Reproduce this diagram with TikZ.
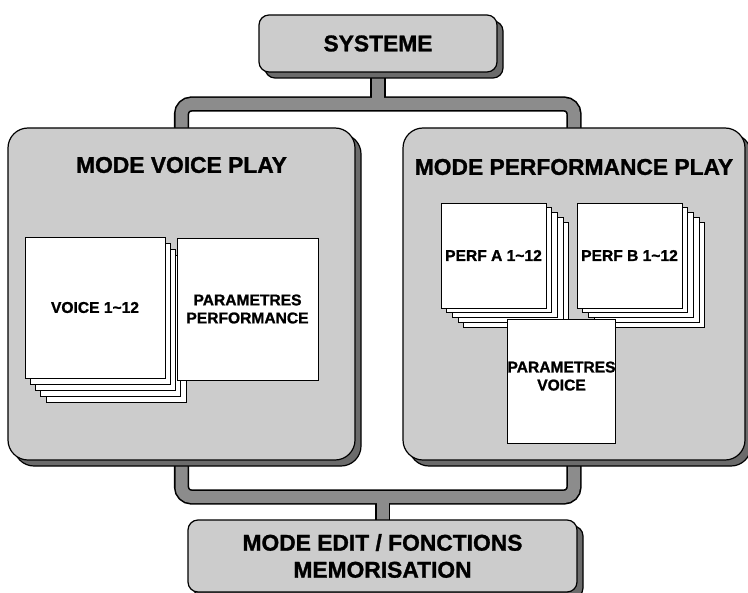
\documentclass[tikz,border=0pt]{standalone}
\usepackage{fontspec}
\setmainfont{Liberation Sans}[BoldFeatures={FakeBold=1.2}]
\usepackage{xcolor}
\usetikzlibrary{shadows}
\usetikzlibrary{backgrounds}

\newcommand{\hdfont}{\fontsize{11.4}{13.5}\selectfont\bfseries}
\newcommand{\shfont}{\fontsize{7.8}{9}\selectfont\bfseries}

\begin{document}
\begin{tikzpicture}[x=0.5pt,y=-0.5pt,
        boxshade/.style={draw=black,line width=0.6pt,fill=black!20,inner sep=0pt,outer sep=0pt,
            drop shadow={shadow xshift=3pt,shadow yshift=-3pt,fill=black!58,draw=black,line width=0.6pt,opacity=1}},
        panel/.style={boxshade,rounded corners=10pt,minimum height=166pt},
        headbox/.style={boxshade,rounded corners=5pt,align=center,font=\hdfont},
        title/.style={inner sep=0pt,font=\hdfont},
        sheet/.style={draw=black,line width=0.5pt,fill=white,inner sep=0pt,outer sep=0pt,align=center,font=\shfont},
        barout/.style={line width=7.6pt,draw=black,rounded corners=5pt},
        barin/.style={line width=6pt,draw=black!45,rounded corners=5pt}]
        \useasboundingbox (0,0) rectangle (748,593);
        % top and bottom boxes
        \node[headbox,minimum width=119pt,minimum height=28.5pt] (sys) at (378,43.5) {SYSTEME};
        \node[headbox,minimum width=194.5pt,minimum height=36pt] (edit) at (382.5,556) {MODE EDIT / FONCTIONS\\MEMORISATION};
        % the two modes
        \node[panel,minimum width=173.5pt] (vp) at (181.5,294) {};
        \node[panel,minimum width=171pt] (pp) at (574,294) {};
        \node[title] (vptitle) at (181.5,165) {MODE VOICE PLAY};
        \node[title] (pptitle) at (574,167) {MODE PERFORMANCE PLAY};
        % voice stack
        \foreach \i in {4,3,2,1}
            \node[sheet,minimum width=70pt,minimum height=70.5pt] (vs\i) at ({95+5.3*\i},{307.5+6.2*\i}) {};
        \node[sheet,minimum width=70pt,minimum height=70.5pt] (voice) at (95,307.5) {VOICE 1\textasciitilde12};
        \node[sheet,minimum width=70.5pt,minimum height=71pt] (parperf) at (247.5,309) {PARAMETRES\\PERFORMANCE};
        % performance stacks
        \foreach \i in {4,3,2,1}{
            \node[sheet,minimum size=52.5pt] (pa\i) at ({493.5+5.7*\i},{255.5+4.8*\i}) {};
            \node[sheet,minimum size=52.5pt] (pb\i) at ({629.5+5.7*\i},{255.5+4.8*\i}) {};
        }
        \node[sheet,minimum size=52.5pt] (perfa) at (493.5,255.5) {PERF A 1\textasciitilde12};
        \node[sheet,minimum size=52.5pt] (perfb) at (629.5,255.5) {PERF B 1\textasciitilde12};
        \node[sheet,minimum width=52.5pt,minimum height=62pt,text depth=5pt] (parvoice) at (561.5,381) {PARAMETRES\\VOICE};
        % brackets
        \coordinate (tb) at (378,104);
        \coordinate (bb) at (382.5,497);
        \begin{scope}[on background layer]
            \draw[barout] (vp.north) |- (tb) -| (pp.north);
            \draw[barout] (sys.south) -- (tb);
            \draw[barout] (vp.south) |- (bb) -| (pp.south);
            \draw[barout] (bb) -- (edit.north);
            \draw[barin] (vp.north) |- (tb) -| (pp.north);
            \draw[barin] (sys.south) -- (tb);
            \draw[barin] (vp.south) |- (bb) -| (pp.south);
            \draw[barin] (bb) -- (edit.north);
        \end{scope}
    \end{tikzpicture}
\end{document}
